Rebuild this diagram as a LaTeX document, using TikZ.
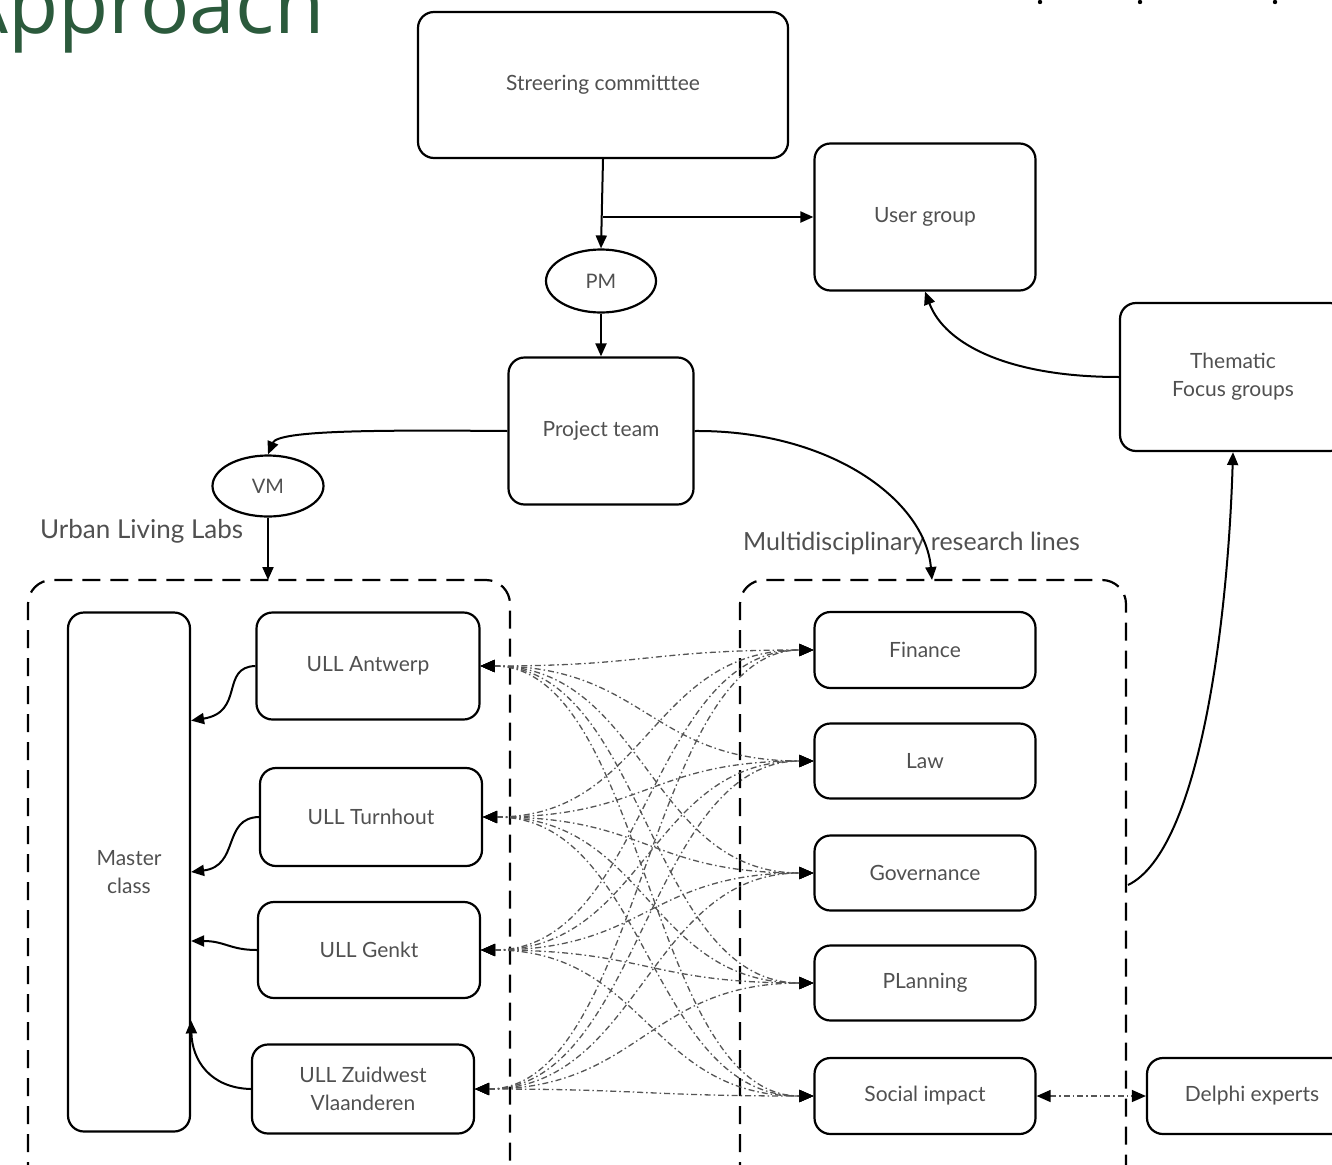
\documentclass[tikz,border=0pt]{standalone}
\usepackage{fontspec}
\setmainfont{Lato}
\newfontfamily\titlefont{Open Sans}
\usetikzlibrary{arrows.meta,shapes.geometric}
\definecolor{txt}{HTML}{505050}
\definecolor{ttl}{HTML}{2B5A3C}
\definecolor{dd}{HTML}{555555}
\begin{document}
\begin{tikzpicture}[x=1pt,y=-1pt,
  box/.style={draw, line width=2.2pt, rounded corners=16pt, text=txt,
    font=\fontsize{21}{28}\selectfont, align=center, inner sep=0pt, yshift=0pt},
  ell/.style={draw, ellipse, line width=2.2pt, text=txt,
    font=\fontsize{20}{24}\selectfont, inner sep=0pt},
  arr/.style={-{Triangle[length=13pt,width=11pt]}, line width=2pt},
  ddot/.style={draw=dd, line width=1.3pt, dash pattern=on 6pt off 3pt on 1.5pt off 3pt,
    {Triangle[length=14pt,width=12pt,fill=black,color=black]}-{Triangle[length=14pt,width=12pt,fill=black,color=black]}},
  cont/.style={draw, line width=2.2pt, dash pattern=on 18pt off 10pt, rounded corners=24pt},
  lab/.style={text=txt, font=\fontsize{25}{30}\selectfont, anchor=west, inner sep=0pt}
]
\useasboundingbox (0,0) rectangle (1332,1164);

% title
\node[anchor=base west, inner sep=0pt, text=ttl, font=\titlefont\fontsize{82}{82}\selectfont] (title) at (-44,34) {Approach};
\fill (1040,2) circle (2.2pt) (1140,2) circle (2.2pt) (1275,2) circle (2.2pt);

% top nodes
\node[box, minimum width=370pt, minimum height=146pt] (sc) at (603,85) {\raisebox{-3pt}{Streering committtee}};
\node[box, minimum width=221pt, minimum height=147pt] (ug) at (925,217) {\raisebox{-2pt}{User group}};
\node[ell, minimum width=110pt, minimum height=63pt] (pm) at (601,281) {PM};
\node[box, minimum width=185pt, minimum height=147pt] (pt) at (601,431) {\raisebox{-2pt}{Project team}};
\node[box, minimum width=226pt, minimum height=148pt] (tf) at (1233,377) {Thematic\\Focus groups};
\node[ell, minimum width=111pt, minimum height=61pt] (vm) at (268,486) {VM};

% labels
\node[lab, font=\fontsize{26}{30}\selectfont] (ull) at (40,531) {Urban Living Labs};
\node[lab] (mrl) at (743,543) {Multidisciplinary research lines};

% containers
\draw[cont] (28,1180) -- (28,580) -- (510,580) -- (510,1180);
\draw[cont] (740,1180) -- (740,580) -- (1126,580) -- (1126,1180);
\coordinate (ltop) at (268,580);
\coordinate (rtop) at (932,580);
\coordinate (rside) at (1128,885);

% left column
\node[box, minimum width=122pt, minimum height=519pt] (mc) at (129,872) {Master\\class};
\node[box, minimum width=223pt, minimum height=107pt] (ant) at (368,666) {\raisebox{-2pt}{ULL Antwerp}};
\node[box, minimum width=222pt, minimum height=98pt] (tur) at (371,817) {ULL Turnhout};
\node[box, minimum width=222pt, minimum height=96pt] (gen) at (369,950) {ULL Genkt};
\node[box, minimum width=222pt, minimum height=89pt] (zw) at (363,1089) {ULL Zuidwest\\Vlaanderen};

% right column
\node[box, minimum width=221pt, minimum height=76pt] (fin) at (925,650) {Finance};
\node[box, minimum width=221pt, minimum height=75pt] (law) at (925,761) {Law};
\node[box, minimum width=221pt, minimum height=75pt] (gov) at (925,873) {Governance};
\node[box, minimum width=221pt, minimum height=75pt] (pla) at (925,983) {PLanning};
\node[box, minimum width=221pt, minimum height=76pt] (soc) at (925,1096) {Social impact};
\node[box, minimum width=210pt, minimum height=76pt] (del) at (1252,1096) {Delphi experts};

% solid connectors
\draw[arr] (sc.south) -- (pm.north);
\draw[arr] (sc.south |- ug.west) -- (ug.west);
\draw[arr] (pm.south) -- (pt.north);
\draw[arr] (pt.west) .. controls (380,430) and (278,430) .. (vm.north);
\draw[arr] (vm.south) -- (ltop);
\draw[arr] (pt.east) .. controls (830,430) and (925,500) .. (rtop);
\draw[arr] (tf.west) .. controls (1010,377) and (945,345) .. (ug.south);
\draw[arr] (rside) .. controls (1200,850) and (1228,620) .. (tf.south);

\draw[arr] (ant.west) .. controls (220,667) and (245,712) .. (mc.east |- ant.south);
\draw[arr] (tur.west) .. controls (222,818) and (240,866) .. (mc.east);
\draw[arr] (gen.west) .. controls (230,950) and (225,941) .. ([yshift=9pt]mc.east |- gen.west);
\draw[arr] (zw.west) .. controls (210,1088) and (192,1060) .. ([yshift=23pt]mc.east |- zw.north);

% dash-dotted links
\foreach \u in {ant,tur,gen,zw}{
  \foreach \l in {fin,law,gov,pla,soc}{
    \draw[ddot] (\u.east) .. controls +(165,0) and +(-165,0) .. (\l.west);
  }
}
\draw[ddot] (soc.east) -- (del.west);
\end{tikzpicture}
\end{document}
